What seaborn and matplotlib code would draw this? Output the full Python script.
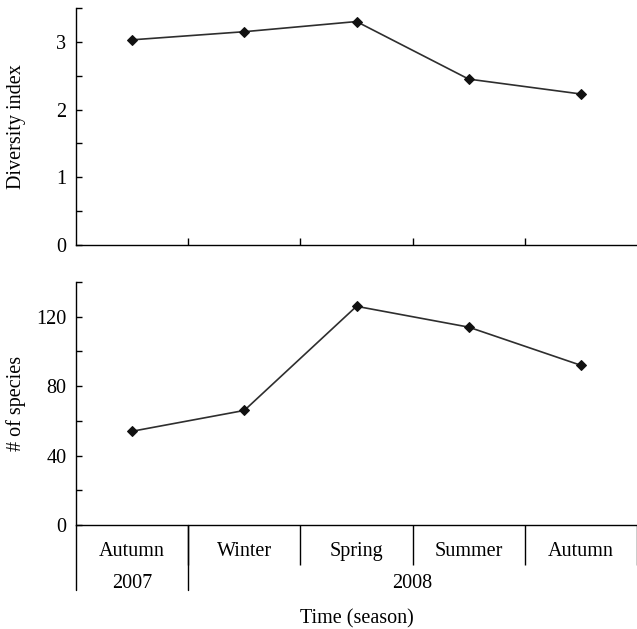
import numpy as np
import pandas as pd
import matplotlib
matplotlib.use("Agg")
import matplotlib.pyplot as plt
import seaborn as sns
from matplotlib.transforms import blended_transform_factory
from matplotlib.ticker import MultipleLocator, FixedLocator

# ---- data ----
seasons = ["Autumn", "Winter", "Spring", "Summer", "Autumn"]
years = ["2007", "2008"]
seasons_per_year = [1, 4]
diversity = [3.03, 3.15, 3.30, 2.45, 2.23]
species = [54, 66, 126, 114, 92]

sns.set_theme(style="ticks")
plt.rcParams["font.family"] = ["Liberation Serif", "DejaVu Serif"]
plt.rcParams.update({
    "axes.edgecolor": "black",
    "axes.linewidth": 1.0,
    "xtick.color": "black",
    "ytick.color": "black",
    "text.color": "black",
    "axes.labelcolor": "black",
})

W, H = 637, 629
fig = plt.figure(figsize=(W / 100, H / 100), dpi=100)


def rect(l, t, r, b):
    return [l / W, 1 - b / H, (r - l) / W, (b - t) / H]


ax1 = fig.add_axes(rect(76, 8, 637, 245))
ax2 = fig.add_axes(rect(76, 282, 637, 525))

n = len(seasons)
df = pd.DataFrame({"pos": np.arange(n), "season": seasons,
                   "diversity": diversity, "species": species})

FS = 14.5

for ax, col in ((ax1, "diversity"), (ax2, "species")):
    sns.lineplot(data=df, x="pos", y=col, ax=ax, color="#2e2e2e", lw=1.2,
                 marker="D", markersize=5.5, markerfacecolor="#111111",
                 markeredgecolor="#111111")
    sns.despine(ax=ax)
    ax.set_xlim(-0.5, n - 0.5)
    ax.tick_params(axis="y", which="both", direction="in", labelsize=FS, pad=7)
    ax.tick_params(axis="y", which="major", length=4.5, width=1)
    ax.tick_params(axis="y", which="minor", length=4.5, width=1)
    ax.set_xlabel("")

boundaries = np.arange(n - 1) + 0.5

# top panel
ax1.set_ylim(0, 3.5)
ax1.yaxis.set_major_locator(FixedLocator([0, 1, 2, 3]))
ax1.yaxis.set_minor_locator(MultipleLocator(0.5))
ax1.set_xticks(boundaries)
ax1.set_xticklabels([])
ax1.tick_params(axis="x", direction="in", length=5, width=1)
ax1.set_ylabel("Diversity index", fontsize=FS)
ax1.yaxis.set_label_coords(-0.09, 0.5)

# bottom panel
ax2.set_ylim(0, 140)
ax2.yaxis.set_major_locator(FixedLocator([0, 40, 80, 120]))
ax2.yaxis.set_minor_locator(MultipleLocator(20))
ax2.set_xticks(np.arange(n))
ax2.set_xticklabels(seasons)
ax2.tick_params(axis="x", which="major", length=0, labelsize=FS, pad=12)
ax2.xaxis.set_minor_locator(FixedLocator(list(boundaries) + [n - 0.5]))
ax2.tick_params(axis="x", which="minor", direction="out", length=29, width=1)
ax2.set_ylabel("# of species", fontsize=FS)
ax2.yaxis.set_label_coords(-0.09, 0.5)

# year row
ax_h = 525 - 282
tr = blended_transform_factory(ax2.transData, ax2.transAxes)
year_edges = np.concatenate([[0], np.cumsum(seasons_per_year)]) - 0.5
for xe in year_edges[:-1]:
    ax2.plot([xe, xe], [0, -65 / ax_h], color="black", lw=1,
             transform=tr, clip_on=False)
for i, yr in enumerate(years):
    xc = (year_edges[i] + year_edges[i + 1]) / 2
    ax2.text(xc, -58 / ax_h, yr, transform=tr, ha="center", va="center",
             fontsize=FS)

ax2.set_xlabel("Time (season)", fontsize=FS)
ax2.xaxis.set_label_coords(0.5, -84 / ax_h)

fig.savefig("out.png", dpi=100)
